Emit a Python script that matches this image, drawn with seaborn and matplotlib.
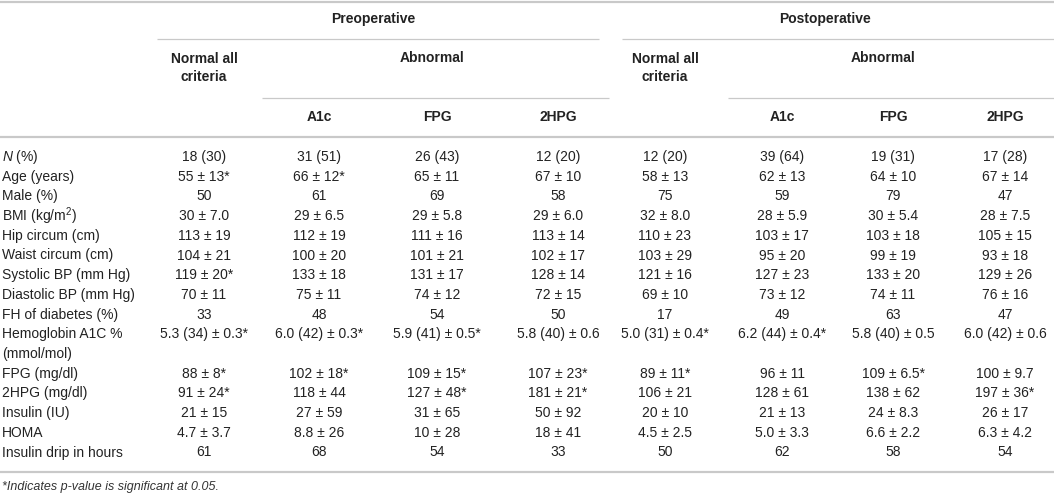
"""
plot.py - table of pre/postoperative patient characteristics drawn as text on a blank seaborn axes.
"""

import matplotlib
matplotlib.use("Agg")  # no screen in the sandbox

import matplotlib.pyplot as plt
import pandas as pd
import seaborn as sns

# --- table content ---
row_labels = ["$\\mathit{N}$ (%)", "Age (years)", "Male (%)", "BMI (kg/m$^2$)",
              "Hip circum (cm)", "Waist circum (cm)", "Systolic BP (mm Hg)",
              "Diastolic BP (mm Hg)", "FH of diabetes (%)",
              "Hemoglobin A1C %\n(mmol/mol)", "FPG (mg/dl)", "2HPG (mg/dl)",
              "Insulin (IU)", "HOMA", "Insulin drip in hours"]

pre_normal = ["18 (30)", "55 ± 13*", "50", "30 ± 7.0", "113 ± 19", "104 ± 21",
              "119 ± 20*", "70 ± 11", "33", "5.3 (34) ± 0.3*", "88 ± 8*",
              "91 ± 24*", "21 ± 15", "4.7 ± 3.7", "61"]
pre_a1c = ["31 (51)", "66 ± 12*", "61", "29 ± 6.5", "112 ± 19", "100 ± 20",
           "133 ± 18", "75 ± 11", "48", "6.0 (42) ± 0.3*", "102 ± 18*",
           "118 ± 44", "27 ± 59", "8.8 ± 26", "68"]
pre_fpg = ["26 (43)", "65 ± 11", "69", "29 ± 5.8", "111 ± 16", "101 ± 21",
           "131 ± 17", "74 ± 12", "54", "5.9 (41) ± 0.5*", "109 ± 15*",
           "127 ± 48*", "31 ± 65", "10 ± 28", "54"]
pre_2hpg = ["12 (20)", "67 ± 10", "58", "29 ± 6.0", "113 ± 14", "102 ± 17",
            "128 ± 14", "72 ± 15", "50", "5.8 (40) ± 0.6", "107 ± 23*",
            "181 ± 21*", "50 ± 92", "18 ± 41", "33"]
post_normal = ["12 (20)", "58 ± 13", "75", "32 ± 8.0", "110 ± 23", "103 ± 29",
               "121 ± 16", "69 ± 10", "17", "5.0 (31) ± 0.4*", "89 ± 11*",
               "106 ± 21", "20 ± 10", "4.5 ± 2.5", "50"]
post_a1c = ["39 (64)", "62 ± 13", "59", "28 ± 5.9", "103 ± 17", "95 ± 20",
            "127 ± 23", "73 ± 12", "49", "6.2 (44) ± 0.4*", "96 ± 11",
            "128 ± 61", "21 ± 13", "5.0 ± 3.3", "62"]
post_fpg = ["19 (31)", "64 ± 10", "79", "30 ± 5.4", "103 ± 18", "99 ± 19",
            "133 ± 20", "74 ± 11", "63", "5.8 (40) ± 0.5", "109 ± 6.5*",
            "138 ± 62", "24 ± 8.3", "6.6 ± 2.2", "58"]
post_2hpg = ["17 (28)", "67 ± 14", "47", "28 ± 7.5", "105 ± 15", "93 ± 18",
             "129 ± 26", "76 ± 16", "47", "6.0 (42) ± 0.6", "100 ± 9.7",
             "197 ± 36*", "26 ± 17", "6.3 ± 4.2", "54"]

group_labels = ["Preoperative", "Postoperative"]
normal_label = "Normal all\ncriteria"
abnormal_label = "Abnormal"
sub_labels = ["A1c", "FPG", "2HPG"]
footnote = "*Indicates p-value is significant at 0.05."

# one frame, one column per group
df = pd.DataFrame({"label": row_labels,
                   "pre_normal": pre_normal, "pre_a1c": pre_a1c,
                   "pre_fpg": pre_fpg, "pre_2hpg": pre_2hpg,
                   "post_normal": post_normal, "post_a1c": post_a1c,
                   "post_fpg": post_fpg, "post_2hpg": post_2hpg})

# --- layout (pixel-like units, y grows downward) ---
W, H = 1054, 496
col_x = {"pre_normal": 204, "pre_a1c": 319, "pre_fpg": 437, "pre_2hpg": 558,
         "post_normal": 665, "post_a1c": 782, "post_fpg": 893, "post_2hpg": 1005}
row_y0, row_step = 157, 19.7
TXT = "#222222"
RULE = "#c9c9c9"

sns.set_theme(style="white")
plt.rcParams["font.family"] = ["Liberation Sans", "DejaVu Sans"]
plt.rcParams["mathtext.fontset"] = "custom"
plt.rcParams["mathtext.rm"] = "Liberation Sans"
plt.rcParams["mathtext.it"] = "Liberation Sans:italic"

fig = plt.figure(figsize=(W / 100, H / 100), dpi=100)
ax = fig.add_axes([0, 0, 1, 1])
ax.set_xlim(0, W)
ax.set_ylim(H, 0)
ax.axis("off")

# --- horizontal rules ---
ax.hlines([2, 137, 472], 0, W, color=RULE, lw=1.6)
ax.hlines(39, 157, 599, color=RULE, lw=0.9)
ax.hlines(39, 622, W, color=RULE, lw=0.9)
ax.hlines(98, 262, 609, color=RULE, lw=0.9)
ax.hlines(98, 728, W, color=RULE, lw=0.9)

# --- header ---
hdr = dict(ha="center", va="center", fontsize=10, fontweight="bold", color=TXT)
for name, x in zip(group_labels, [373, 825]):
    ax.text(x, 19, name, **hdr)
for x in [col_x["pre_normal"], col_x["post_normal"]]:
    ax.text(x, 68, normal_label, linespacing=1.45, **hdr)
for x in [432, 883]:
    ax.text(x, 58, abnormal_label, **hdr)
for prefix in ["pre", "post"]:
    for key, name in zip(["a1c", "fpg", "2hpg"], sub_labels):
        ax.text(col_x[f"{prefix}_{key}"], 117, name, **hdr)

# --- body ---
slot = 0
for _, row in df.iterrows():
    y = row_y0 + slot * row_step
    lines = row["label"].split("\n")
    for k, line in enumerate(lines):  # wrapped labels take extra slots
        ax.text(2, y + k * row_step, line, ha="left", va="center",
                fontsize=10, color=TXT)
    for col, x in col_x.items():
        ax.text(x, y, row[col], ha="center", va="center", fontsize=10, color=TXT)
    slot += len(lines)

ax.text(2, 487, footnote, ha="left", va="center", fontsize=9,
        style="italic", color="#333333")

fig.savefig("out.png", dpi=100)
plt.close(fig)
